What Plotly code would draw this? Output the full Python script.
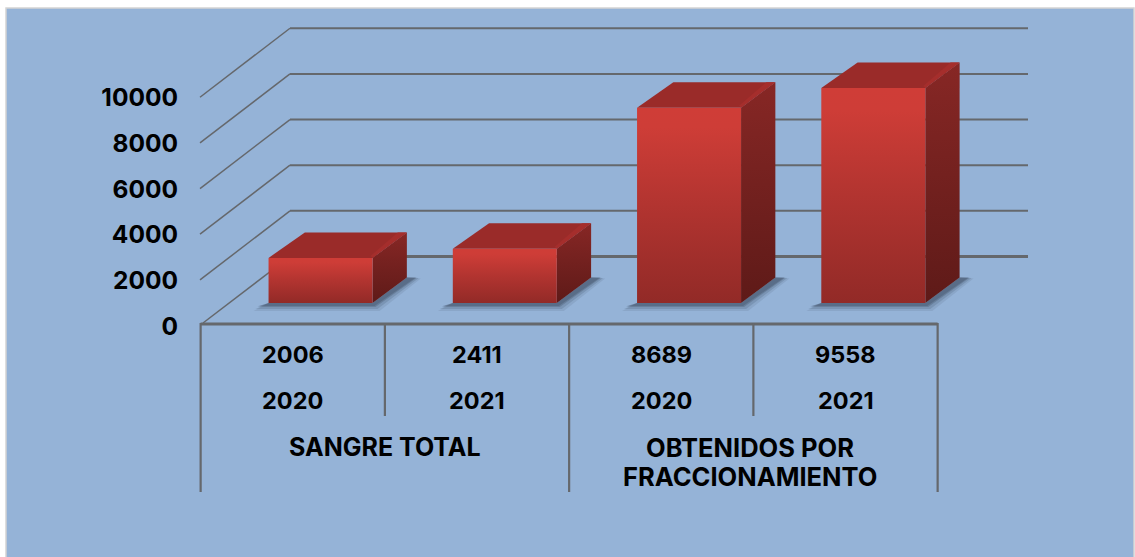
import plotly.graph_objects as go

# ---- data ----
values = [2006, 2411, 8689, 9558]
years = ["2020", "2021", "2020", "2021"]
group_a = ["SANGRE TOTAL"]
group_b = ["OBTENIDOS POR", "FRACCIONAMIENTO"]
y_ticks = [0, 2000, 4000, 6000, 8000, 10000]

# ---- canvas / scales ----
W, H = 1135, 557
CELL = 184.25            # px per category
X0 = 292.75              # px of category 0
Y0 = 326                 # px of value 0 on the labelled axis
PX_PER_UNIT = 45.65 / 2000

BG = "#95B3D7"
GRID = "#65686c"
FONT = "Inter"

def ux(px):              # pixel offset -> category units
    return px / CELL
def uy(px):              # pixel offset -> value units
    return px / PX_PER_UNIT

LIFT = uy(2)             # plot floor sits slightly above the label baseline
x_range = [-X0 / CELL, (W - X0) / CELL]
y_range = [(Y0 - H) / PX_PER_UNIT, Y0 / PX_PER_UNIT]

fig = go.Figure()

# ---- walls: gridlines ----
WALL_DY = uy(67.5) + LIFT
for v in y_ticks:
    front_x = 200 if v else 203
    front_off = (uy(-1.5) if v else uy(1)) + LIFT
    fig.add_trace(go.Scatter(
        x=[(front_x - X0) / CELL, (290 - X0) / CELL],
        y=[v + front_off, v + WALL_DY],
        mode="lines", line=dict(color=GRID, width=1.5), hoverinfo="skip", showlegend=False))
    fig.add_trace(go.Scatter(
        x=[(290 - X0) / CELL, (1028 - X0) / CELL],
        y=[v + WALL_DY, v + WALL_DY],
        mode="lines", line=dict(color=GRID, width=2.8 if v == 0 else 2), hoverinfo="skip", showlegend=False))

# ---- bars (oblique projection through the axes) ----
BASE = uy(21) + LIFT
BAR_SCALE = 0.985
BAR_OFF = ux(27.8)
BAR_W = ux(104)
DX = ux(34.3)
DY = uy(25.5)
CLEAR = dict(width=0, color="rgba(0,0,0,0)")

def poly(xs, ys, **kw):
    fig.add_trace(go.Scatter(x=xs, y=ys, fill="toself", mode="lines", hoverinfo="skip", showlegend=False, **kw))

for i, v in enumerate(values):
    xl = i + BAR_OFF - BAR_W / 2
    xr = i + BAR_OFF + BAR_W / 2
    yb = BASE
    yt = BASE + v * BAR_SCALE

    # soft shadow
    for grow, alpha in [(5, 0.12), (3, 0.2), (1, 0.3), (0, 0.35)]:
        g = ux(grow); gy = uy(grow)
        poly([xl - ux(10) - g, xr + ux(2) + g, xr + DX + ux(9) + g, xr + DX, xr, xl],
             [yb - uy(3) - gy, yb - uy(3) - gy, yb + DY - gy * 0.2, yb + DY, yb, yb],
             line=CLEAR, fillcolor=f"rgba(62,78,100,{alpha})")

    # right side
    poly([xr, xr + DX, xr + DX, xr, xr], [yb, yb + DY, yt + DY, yt, yb],
         line=CLEAR,
         fillgradient=dict(type="vertical",
                           colorscale=[[0, "#5e1a18"], [1, "#872725"]]))
    # top
    poly([xl, xr, xr + DX, xl + DX + ux(2), xl], [yt, yt, yt + DY, yt + DY, yt],
         line=CLEAR, fillcolor="#9A2B29")
    # top corner highlight
    poly([xr - ux(2), xr, xr + DX, xr + DX - ux(9)], [yt + uy(2), yt, yt + DY, yt + DY],
         line=CLEAR, fillcolor="#A52E2C")
    # front
    poly([xl, xr, xr, xl, xl], [yb, yb, yt, yt, yb],
         line=CLEAR,
         fillgradient=dict(type="vertical",
                           colorscale=[[0, "#922A27"], [0.5, "#B23430"], [0.9, "#CE3D37"], [1, "#CF3D37"]]))

# ---- data-table rules under the plot ----
def vline(cat_edge, px_bottom):
    fig.add_shape(type="line", xref="x", yref="y",
                  x0=cat_edge, x1=cat_edge, y0=uy(1) + LIFT, y1=uy(Y0 - px_bottom),
                  line=dict(color=GRID, width=2.2))

fig.add_shape(type="line", xref="x", yref="y", x0=-0.5, x1=3.5, y0=LIFT, y1=LIFT,
              line=dict(color=GRID, width=3))
vline(-0.5, 492); vline(0.5, 416); vline(1.5, 492); vline(2.5, 416); vline(3.5, 492)

# ---- table text ----
def label(x, px_y, text, size=23.5):
    fig.add_annotation(x=x, y=1 - px_y / H, xref="x", yref="paper", text=text, showarrow=False,
                       font=dict(family=FONT, size=size, color="#000000", weight=700),
                       xanchor="center", yanchor="middle", align="center")

for i, (v, yr) in enumerate(zip(values, years)):
    label(i, 354, str(v))
    label(i, 400.5, yr)
label(0.5, 447, group_a[0], 25)
label(2.5 - ux(3), 447, group_b[0], 25.5)
label(2.5 - ux(3), 476, group_b[1], 25.5)

# ---- panel background ----
fig.add_shape(type="rect", xref="paper", yref="paper", layer="below",
              x0=6 / W, x1=1134 / W, y0=-0.01, y1=1 - 8 / H,
              fillcolor=BG, line=dict(color="#D4D4D4", width=1.5))

fig.update_layout(
    width=W, height=H, margin=dict(l=0, r=0, t=0, b=0),
    paper_bgcolor="#FFFFFF", plot_bgcolor="rgba(0,0,0,0)",
    showlegend=False, hovermode=False,
    xaxis=dict(range=x_range, visible=False, fixedrange=True),
    yaxis=dict(range=y_range, tickvals=y_ticks, ticktext=[str(t) for t in y_ticks],
               showgrid=False, zeroline=False, showline=False, ticks="",
               anchor="free", position=178 / W, side="left", fixedrange=True,
               tickfont=dict(family=FONT, size=24.5, color="#000000", weight=700)),
)

fig.write_html("out.html", config=dict(displayModeBar=False),
               post_script="document.body.style.margin='0';document.body.style.overflow='hidden';")
